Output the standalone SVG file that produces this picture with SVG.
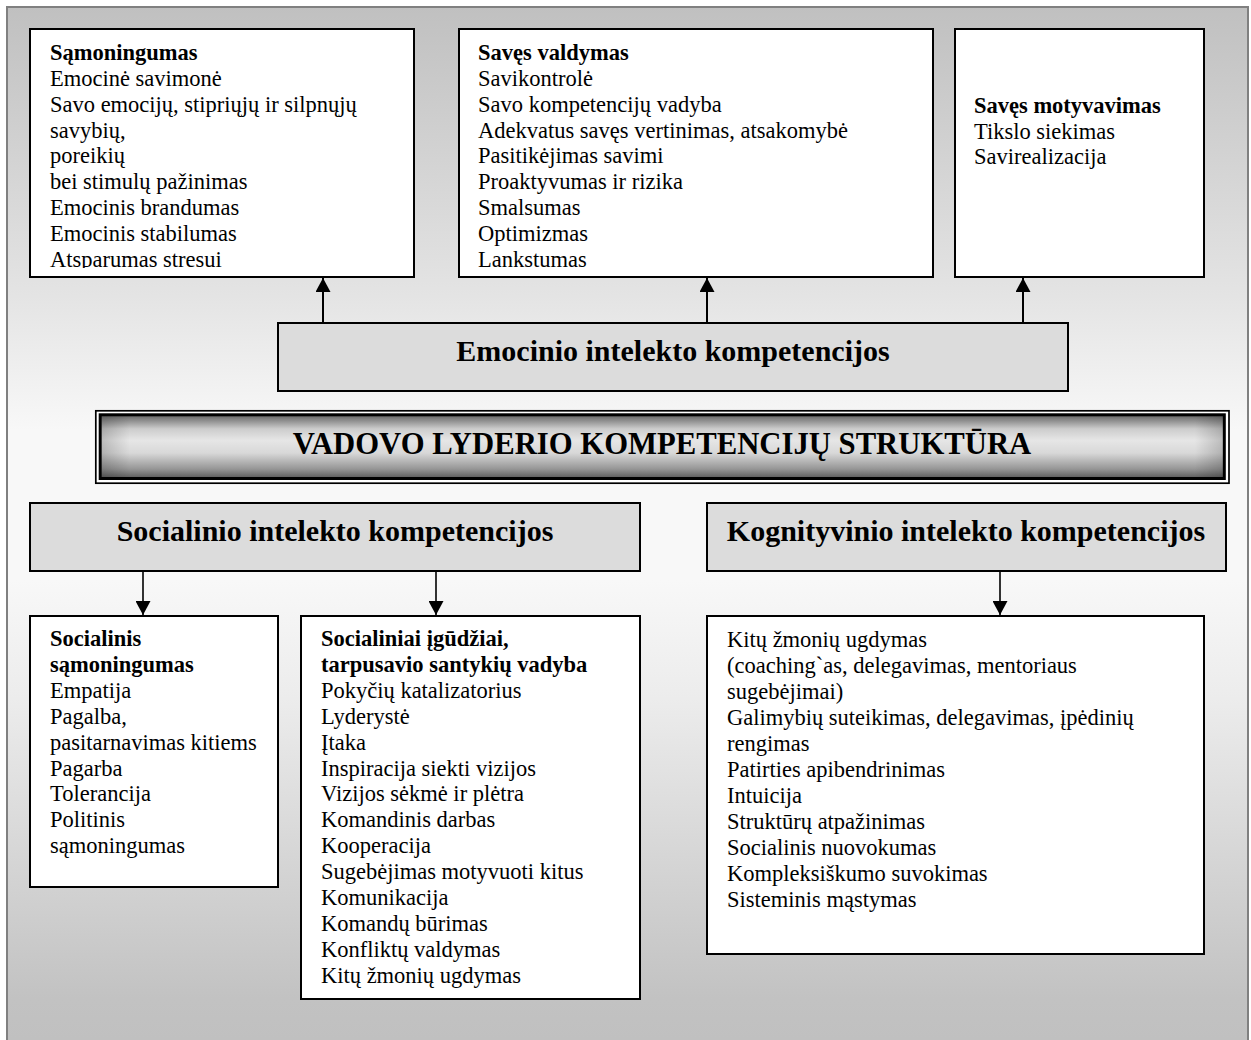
<svg xmlns="http://www.w3.org/2000/svg" width="1251" height="1040" viewBox="0 0 1251 1040">
  <defs>
    <style>
      .t { font-family: "Liberation Serif", "Times New Roman", serif; font-size: 22.5px; fill: #000; }
      .b { font-weight: bold; }
      .h { font-family: "Liberation Serif", "Times New Roman", serif; font-size: 30px; font-weight: bold; text-anchor: middle; fill: #000; }
      .box { fill: #fff; stroke: #000; stroke-width: 2; }
      .cat { fill: #dcdcdc; stroke: #000; stroke-width: 2; }
      .conn { stroke: #000; fill: none; }
    </style>
    <linearGradient id="bg" gradientUnits="userSpaceOnUse" x1="0" y1="7" x2="0" y2="1040">
      <stop offset="0" stop-color="#c0c0c0"/>
      <stop offset="0.28" stop-color="#e4e4e4"/>
      <stop offset="0.41" stop-color="#f8f8f8"/>
      <stop offset="0.555" stop-color="#f8f8f8"/>
      <stop offset="0.67" stop-color="#ececec"/>
      <stop offset="0.835" stop-color="#d4d4d4"/>
      <stop offset="0.96" stop-color="#c2c2c2"/>
      <stop offset="1" stop-color="#c0c0c0"/>
    </linearGradient>
    <linearGradient id="bar" x1="0" y1="0" x2="0" y2="1">
      <stop offset="0" stop-color="#626262"/>
      <stop offset="0.22" stop-color="#cccccc"/>
      <stop offset="0.4" stop-color="#e6e6e6"/>
      <stop offset="0.6" stop-color="#d8d8d8"/>
      <stop offset="0.85" stop-color="#969696"/>
      <stop offset="1" stop-color="#585858"/>
    </linearGradient>
    <linearGradient id="barEdge" x1="0" y1="0" x2="1" y2="0">
      <stop offset="0" stop-color="#000" stop-opacity="0.18"/>
      <stop offset="0.025" stop-color="#000" stop-opacity="0"/>
      <stop offset="0.975" stop-color="#000" stop-opacity="0"/>
      <stop offset="1" stop-color="#000" stop-opacity="0.18"/>
    </linearGradient>
    <marker id="arr" viewBox="0 0 14 15" refX="14" refY="7.5" markerWidth="14" markerHeight="15" markerUnits="userSpaceOnUse" orient="auto">
      <path d="M0,0 L14,7.5 L0,15 z" fill="#000"/>
    </marker>
    <clipPath id="clip1">
      <rect x="30" y="29" width="384" height="239"/>
    </clipPath>
  </defs>

  <!-- background frame -->
  <rect x="7" y="7" width="1241" height="1045" fill="url(#bg)" stroke="#808080" stroke-width="2"/>

  <!-- connectors -->
  <g id="connectors">
    <line class="conn" stroke-width="2" x1="323" y1="323" x2="323" y2="278" marker-end="url(#arr)"/>
    <line class="conn" stroke-width="2" x1="707" y1="323" x2="707" y2="278" marker-end="url(#arr)"/>
    <line class="conn" stroke-width="2" x1="1023" y1="323" x2="1023" y2="278" marker-end="url(#arr)"/>
    <line class="conn" stroke-width="1.6" x1="143" y1="571" x2="143" y2="615" marker-end="url(#arr)"/>
    <line class="conn" stroke-width="1.6" x1="436" y1="571" x2="436" y2="615" marker-end="url(#arr)"/>
    <line class="conn" stroke-width="1.6" x1="1000" y1="571" x2="1000" y2="615" marker-end="url(#arr)"/>
  </g>

  <!-- Sąmoningumas -->
  <g id="node-samoningumas">
    <rect class="box" x="30" y="29" width="384" height="248"/>
    <text class="t" x="50" y="60" clip-path="url(#clip1)">
      <tspan x="50" class="b">Sąmoningumas</tspan>
      <tspan x="50" dy="25.85">Emocinė savimonė</tspan>
      <tspan x="50" dy="25.85">Savo emocijų, stipriųjų ir silpnųjų</tspan>
      <tspan x="50" dy="25.85">savybių,</tspan>
      <tspan x="50" dy="25.85">poreikių</tspan>
      <tspan x="50" dy="25.85">bei stimulų pažinimas</tspan>
      <tspan x="50" dy="25.85">Emocinis brandumas</tspan>
      <tspan x="50" dy="25.85">Emocinis stabilumas</tspan>
      <tspan x="50" dy="25.85">Atsparumas stresui</tspan>
    </text>
  </g>

  <!-- Savęs valdymas -->
  <g id="node-saves-valdymas">
    <rect class="box" x="459" y="29" width="474" height="248"/>
    <text class="t" x="478" y="60">
      <tspan x="478" class="b">Savęs valdymas</tspan>
      <tspan x="478" dy="25.85">Savikontrolė</tspan>
      <tspan x="478" dy="25.85">Savo kompetencijų vadyba</tspan>
      <tspan x="478" dy="25.85">Adekvatus savęs vertinimas, atsakomybė</tspan>
      <tspan x="478" dy="25.85">Pasitikėjimas savimi</tspan>
      <tspan x="478" dy="25.85">Proaktyvumas ir rizika</tspan>
      <tspan x="478" dy="25.85">Smalsumas</tspan>
      <tspan x="478" dy="25.85">Optimizmas</tspan>
      <tspan x="478" dy="25.85">Lankstumas</tspan>
    </text>
  </g>

  <!-- Savęs motyvavimas -->
  <g id="node-saves-motyvavimas">
    <rect class="box" x="955" y="29" width="249" height="248"/>
    <text class="t" x="974" y="112.7">
      <tspan x="974" class="b">Savęs motyvavimas</tspan>
      <tspan x="974" dy="25.85">Tikslo siekimas</tspan>
      <tspan x="974" dy="25.85">Savirealizacija</tspan>
    </text>
  </g>

  <!-- Emocinio intelekto kompetencijos -->
  <g id="node-emocinio">
    <rect class="cat" x="278" y="323" width="790" height="68"/>
    <text class="h" x="673" y="361">Emocinio intelekto kompetencijos</text>
  </g>

  <!-- VADOVO LYDERIO KOMPETENCIJŲ STRUKTŪRA -->
  <g id="node-vadovo">
    <rect x="95.8" y="410.8" width="1133.2" height="72.4" fill="#fff" stroke="#000" stroke-width="1.7"/>
    <rect x="100.2" y="414.8" width="1124.1" height="63.7" fill="url(#bar)" stroke="#000" stroke-width="3"/>
    <rect x="101.7" y="416.3" width="1121.1" height="60.7" fill="url(#barEdge)"/>
    <text class="h" x="662" y="454" style="font-size:30.7px">VADOVO LYDERIO KOMPETENCIJŲ STRUKTŪRA</text>
  </g>

  <!-- Socialinio intelekto kompetencijos -->
  <g id="node-socialinio">
    <rect class="cat" x="30" y="503" width="610" height="68"/>
    <text class="h" x="335" y="541">Socialinio intelekto kompetencijos</text>
  </g>

  <!-- Kognityvinio intelekto kompetencijos -->
  <g id="node-kognityvinio">
    <rect class="cat" x="707" y="503" width="519" height="68"/>
    <text class="h" x="966" y="541">Kognityvinio intelekto kompetencijos</text>
  </g>

  <!-- Socialinis sąmoningumas -->
  <g id="node-socialinis-samoningumas">
    <rect class="box" x="30" y="616" width="248" height="271"/>
    <text class="t" x="50" y="646">
      <tspan x="50" class="b">Socialinis</tspan>
      <tspan x="50" dy="25.9" class="b">sąmoningumas</tspan>
      <tspan x="50" dy="25.9">Empatija</tspan>
      <tspan x="50" dy="25.9">Pagalba,</tspan>
      <tspan x="50" dy="25.9">pasitarnavimas kitiems</tspan>
      <tspan x="50" dy="25.9">Pagarba</tspan>
      <tspan x="50" dy="25.9">Tolerancija</tspan>
      <tspan x="50" dy="25.9">Politinis</tspan>
      <tspan x="50" dy="25.9">sąmoningumas</tspan>
    </text>
  </g>

  <!-- Socialiniai įgūdžiai -->
  <g id="node-socialiniai-igudziai">
    <rect class="box" x="301" y="616" width="339" height="383"/>
    <text class="t" x="321" y="646">
      <tspan x="321" class="b">Socialiniai įgūdžiai,</tspan>
      <tspan x="321" dy="25.9" class="b">tarpusavio santykių vadyba</tspan>
      <tspan x="321" dy="25.9">Pokyčių katalizatorius</tspan>
      <tspan x="321" dy="25.9">Lyderystė</tspan>
      <tspan x="321" dy="25.9">Įtaka</tspan>
      <tspan x="321" dy="25.9">Inspiracija siekti vizijos</tspan>
      <tspan x="321" dy="25.9">Vizijos sėkmė ir plėtra</tspan>
      <tspan x="321" dy="25.9">Komandinis darbas</tspan>
      <tspan x="321" dy="25.9">Kooperacija</tspan>
      <tspan x="321" dy="25.9">Sugebėjimas motyvuoti kitus</tspan>
      <tspan x="321" dy="25.9">Komunikacija</tspan>
      <tspan x="321" dy="25.9">Komandų būrimas</tspan>
      <tspan x="321" dy="25.9">Konfliktų valdymas</tspan>
      <tspan x="321" dy="25.9">Kitų žmonių ugdymas</tspan>
    </text>
  </g>

  <!-- Kognityvinės kompetencijos -->
  <g id="node-kognityvines">
    <rect class="box" x="707" y="616" width="497" height="338"/>
    <text class="t" x="727" y="647">
      <tspan x="727">Kitų žmonių ugdymas</tspan>
      <tspan x="727" dy="26">(coaching`as, delegavimas, mentoriaus</tspan>
      <tspan x="727" dy="26">sugebėjimai)</tspan>
      <tspan x="727" dy="26">Galimybių suteikimas, delegavimas, įpėdinių</tspan>
      <tspan x="727" dy="26">rengimas</tspan>
      <tspan x="727" dy="26">Patirties apibendrinimas</tspan>
      <tspan x="727" dy="26">Intuicija</tspan>
      <tspan x="727" dy="26">Struktūrų atpažinimas</tspan>
      <tspan x="727" dy="26">Socialinis nuovokumas</tspan>
      <tspan x="727" dy="26">Kompleksiškumo suvokimas</tspan>
      <tspan x="727" dy="26">Sisteminis mąstymas</tspan>
    </text>
  </g>
</svg>
